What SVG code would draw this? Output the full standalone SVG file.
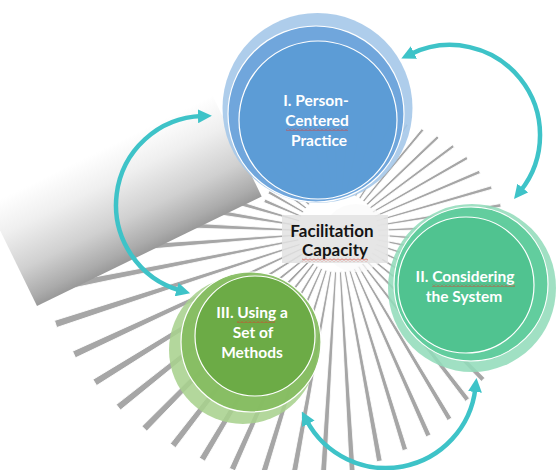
<svg xmlns="http://www.w3.org/2000/svg" width="556" height="470" viewBox="0 0 556 470">
<defs>
<style>
.ray polygon{fill:#a6a6a6;stroke:#ffffff;stroke-width:0.8}
.lbl{font-family:Lato,'Open Sans','Liberation Sans',sans-serif;font-weight:bold;font-size:15.5px;fill:#ffffff;text-anchor:middle}
.ctr{font-family:Lato,'Open Sans','Liberation Sans',sans-serif;font-weight:bold;font-size:17px;fill:#141414;text-anchor:middle}
.ring{stroke:#ffffff;stroke-width:1.2}
.arc{fill:none;stroke:#3ec3c8;stroke-width:4.5;marker-start:url(#ah);marker-end:url(#ah)}
</style>
<linearGradient id="blk" x1="0" y1="1" x2="0" y2="0">
<stop offset="0" stop-color="#999999"/>
<stop offset="0.08" stop-color="#ababab"/>
<stop offset="0.3" stop-color="#d0d0d0"/>
<stop offset="0.6" stop-color="#efefef"/>
<stop offset="0.85" stop-color="#ffffff"/>
</linearGradient>
<marker id="ah" viewBox="0 0 14 14" refX="4" refY="7" markerWidth="14" markerHeight="14" markerUnits="userSpaceOnUse" orient="auto-start-reverse">
<path d="M0,0 L14,7 L0,14 z" fill="#3ec3c8"/>
</marker>
<pattern id="wave" width="4" height="3" patternUnits="userSpaceOnUse">
<path d="M0,2.5 L2,0.5 L4,2.5" fill="none" stroke="#e03a2a" stroke-width="0.8"/>
</pattern>
</defs>
<rect width="556" height="470" fill="#ffffff"/>
<g id="background-rays" class="ray" transform="translate(338,232)">
<polygon transform="rotate(-105.2)" points="40,-1 91,-1 91,1 40,1"/>
<polygon transform="rotate(-98.35)" points="40,-1 96,-1 96,1 40,1"/>
<polygon transform="rotate(-91.5)" points="40,-1 102,-1 102,1 40,1"/>
<polygon transform="rotate(-84.65)" points="40,-1 107,-1 107,1 40,1"/>
<polygon transform="rotate(-77.8)" points="40,-1 112,-1.1 112,1.1 40,1"/>
<polygon transform="rotate(-70.95)" points="40,-1 117,-1.15 117,1.15 40,1"/>
<polygon transform="rotate(-64.1)" points="40,-1 123,-1.2 123,1.2 40,1"/>
<polygon transform="rotate(-57.25)" points="40,-1 128,-1.3 128,1.3 40,1"/>
<polygon transform="rotate(-50.4)" points="40,-1 133,-1.4 133,1.4 40,1"/>
<polygon transform="rotate(-43.55)" points="40,-1 138,-1.45 138,1.45 40,1"/>
<polygon transform="rotate(-36.7)" points="40,-1 144,-1.5 144,1.5 40,1"/>
<polygon transform="rotate(-29.85)" points="40,-1 149,-1.6 149,1.6 40,1"/>
<polygon transform="rotate(-23)" points="40,-1 154,-1.7 154,1.7 40,1"/>
<polygon transform="rotate(-16.15)" points="40,-1 160,-1.75 160,1.75 40,1"/>
<polygon transform="rotate(-9.3)" points="40,-1 165,-1.8 165,1.8 40,1"/>
<polygon transform="rotate(-2.45)" points="40,-1 170,-1.9 170,1.9 40,1"/>
<polygon transform="rotate(4.4)" points="40,-1 175,-2 175,2 40,1"/>
<polygon transform="rotate(11.25)" points="40,-1 181,-2.05 181,2.05 40,1"/>
<polygon transform="rotate(18.1)" points="40,-1 186,-2.1 186,2.1 40,1"/>
<polygon transform="rotate(24.95)" points="40,-1 191,-2.2 191,2.2 40,1"/>
<polygon transform="rotate(31.8)" points="40,-1 196,-2.3 196,2.3 40,1"/>
<polygon transform="rotate(38.65)" points="40,-1 202,-2.35 202,2.35 40,1"/>
<polygon transform="rotate(45.5)" points="40,-1 207,-2.4 207,2.4 40,1"/>
<polygon transform="rotate(52.35)" points="40,-1 212,-2.5 212,2.5 40,1"/>
<polygon transform="rotate(59.2)" points="40,-1 218,-2.55 218,2.55 40,1"/>
<polygon transform="rotate(66.05)" points="40,-1 223,-2.65 223,2.65 40,1"/>
<polygon transform="rotate(72.9)" points="40,-1 228,-2.7 228,2.7 40,1"/>
<polygon transform="rotate(79.75)" points="40,-1 233,-2.8 233,2.8 40,1"/>
<polygon transform="rotate(86.6)" points="40,-1 239,-2.85 239,2.85 40,1"/>
<polygon transform="rotate(93.45)" points="40,-1 244,-2.95 244,2.95 40,1"/>
<polygon transform="rotate(100.3)" points="40,-1 249,-3 249,3 40,1"/>
<polygon transform="rotate(107.15)" points="40,-1 254,-3.1 254,3.1 40,1"/>
<polygon transform="rotate(114)" points="40,-1 260,-3.15 260,3.15 40,1"/>
<polygon transform="rotate(120.85)" points="40,-1 265,-3.25 265,3.25 40,1"/>
<polygon transform="rotate(127.7)" points="40,-1 270,-3.3 270,3.3 40,1"/>
<polygon transform="rotate(134.55)" points="40,-1 276,-3.4 276,3.4 40,1"/>
<polygon transform="rotate(141.4)" points="40,-1 281,-3.45 281,3.45 40,1"/>
<polygon transform="rotate(148.25)" points="40,-1 286,-3.55 286,3.55 40,1"/>
<polygon transform="rotate(155.1)" points="40,-1 291,-3.6 291,3.6 40,1"/>
<polygon transform="rotate(161.95)" points="40,-1 297,-3.7 297,3.7 40,1"/>
<polygon transform="rotate(168.8)" points="40,-1 300,-3.75 300,3.75 40,1"/>
<polygon transform="rotate(175.65)" points="40,-1 260,-3.6 260,3.6 40,1"/>
<polygon transform="rotate(182.5)" points="40,-1 200,-3.2 200,3.2 40,1"/>
<polygon transform="rotate(189.35)" points="40,-1 150,-2.8 150,2.8 40,1"/>
<polygon transform="rotate(196.2)" points="40,-1 120,-2.4 120,2.4 40,1"/>
<polygon transform="rotate(203.05)" points="40,-1 80,-1.8 80,1.8 40,1"/>
<polygon transform="rotate(209.9)" points="40,-1 80,-1.6 80,1.6 40,1"/>
<polygon transform="rotate(216.75)" points="40,-1 90,-1.5 90,1.5 40,1"/>
<polygon transform="rotate(223.6)" points="40,-1 90,-1.4 90,1.4 40,1"/>
<polygon transform="rotate(230.45)" points="40,-1 90,-1.3 90,1.3 40,1"/>
<polygon transform="rotate(237.3)" points="40,-1 90,-1.2 90,1.2 40,1"/>
<polygon transform="rotate(244.15)" points="40,-1 90,-1.1 90,1.1 40,1"/>
</g>
<g id="background-block" transform="translate(37,306) rotate(-26)">
<rect x="0" y="-132" width="250" height="132" fill="url(#blk)"/>
</g>
<g id="node-facilitation-capacity">
<circle cx="356" cy="238" r="34" fill="#fafafa" fill-opacity="0.75"/>
<rect x="282" y="215" width="106" height="48" fill="#e2e2e2" fill-opacity="0.85"/>
<text class="ctr" x="332" y="237">Facilitation</text>
<text class="ctr" x="335" y="256">Capacity</text>
<rect x="302" y="258.5" width="66" height="3" fill="url(#wave)"/>
</g>
<g id="node-person-centered">
<circle cx="317.5" cy="108" r="95" fill="#a5c8e9" fill-opacity="0.9"/>
<circle class="ring" cx="316" cy="114" r="88" fill="#6aa3da" fill-opacity="0.92"/>
<circle class="ring" cx="318" cy="120" r="79" fill="#5b9bd5" fill-opacity="0.95"/>
<text class="lbl" x="316" y="106">I. Person-</text>
<text class="lbl" x="317" y="126">Centered</text>
<text class="lbl" x="319" y="146">Practice</text>
<rect x="286" y="128" width="62" height="3" fill="url(#wave)"/>
</g>
<g id="node-considering-system">
<circle cx="472" cy="288" r="84" fill="#93dcbb" fill-opacity="0.88"/>
<circle class="ring" cx="471" cy="284" r="77" fill="#5ccb9b" fill-opacity="0.92"/>
<circle class="ring" cx="466" cy="285" r="68" fill="#4fc28f" fill-opacity="0.95"/>
<text class="lbl" x="465" y="282">II. Considering</text>
<text class="lbl" x="464" y="302">the System</text>
<rect x="432" y="284" width="83" height="3" fill="url(#wave)"/>
</g>
<g id="node-methods">
<circle cx="243" cy="350" r="74" fill="#a9d18e" fill-opacity="0.88"/>
<circle class="ring" cx="251" cy="342" r="70" fill="#84bc60" fill-opacity="0.92"/>
<circle class="ring" cx="255" cy="336" r="60" fill="#6aaa45" fill-opacity="0.95"/>
<text class="lbl" x="252" y="318">III. Using a</text>
<text class="lbl" x="253" y="338">Set of</text>
<text class="lbl" x="252" y="358">Methods</text>
<rect x="237" y="320" width="38" height="3" fill="url(#wave)"/>
</g>
<g id="connectors">
<path class="arc" d="M180.5,290.6 A89,89 0 0 1 201.9,116.1"/>
<path class="arc" d="M410.3,54.2 A90,90 0 0 1 520.3,191.2"/>
<path class="arc" d="M306.5,420.3 A90,90 0 0 0 475.4,388"/>
</g>
</svg>
